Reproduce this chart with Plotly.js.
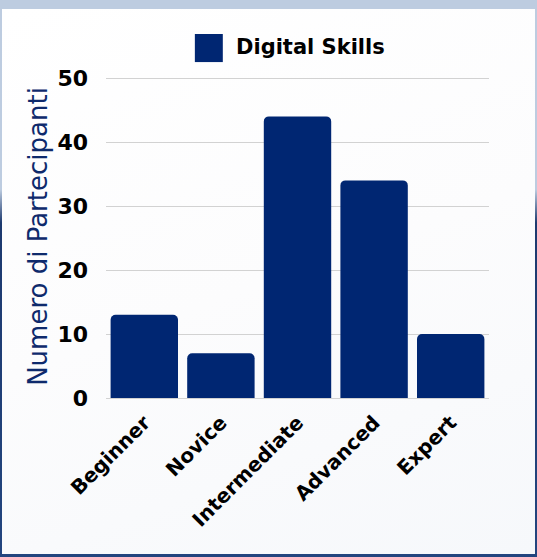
<!DOCTYPE html>
<html>
<head>
<meta charset="utf-8">
<script src="https://cdn.plot.ly/plotly-3.0.1.min.js"></script>
<style>
  html, body { margin:0; padding:0; width:537px; height:557px; overflow:hidden; }
  body { background: linear-gradient(to bottom, #bdcce0 0%, #bdcce0 34%, #1d3a6f 40%, #23457f 100%); position:relative; }
  #frame { position:absolute; left:2px; top:9px; width:533px; height:545px; background: linear-gradient(160deg, #ffffff 0%, #fcfcfd 50%, #f6f8fb 100%); }
  #chart { width:533px; height:545px; }
</style>
</head>
<body>
<div id="frame"><div id="chart"></div></div>
<script>
const categories = ["Beginner", "Novice", "Intermediate", "Advanced", "Expert"];
const participants = [13, 7, 44, 34, 10];
const seriesName = "Digital Skills";
const yTitle = "Numero di Partecipanti";
const yTicks = [0, 10, 20, 30, 40, 50];

const barColor = "#002672";
const boldFont = "DejaVu Sans, sans-serif";

const trace = {
  type: "bar",
  x: categories,
  y: participants,
  name: seriesName,
  marker: { color: barColor, cornerradius: 5 },
  showlegend: false,
  hoverinfo: "x+y"
};

const layout = {
  width: 533, height: 545,
  margin: { l: 104, r: 46, t: 66, b: 156 },
  paper_bgcolor: "rgba(0,0,0,0)",
  plot_bgcolor: "rgba(0,0,0,0)",
  bargap: 0.12,
  xaxis: {
    type: "category",
    tickangle: -45,
    tickfont: { family: boldFont, size: 20, color: "#000000", weight: "bold" },
    showgrid: false, zeroline: false, showline: false, ticks: "",
    ticklabelstandoff: 8,
    automargin: false
  },
  yaxis: {
    range: [0, 50.47],
    tickvals: yTicks,
    tickfont: { family: boldFont, size: 22, color: "#000000", weight: "bold" },
    showgrid: true, gridcolor: "#d2d2d2", gridwidth: 1,
    zeroline: true, zerolinecolor: "#d2d2d2", zerolinewidth: 1,
    ticks: "", ticklabelstandoff: 17,
    automargin: false,
    title: { text: yTitle, font: { family: "DejaVu Sans, sans-serif", size: 26, color: "#0e2a6c" }, standoff: 2 }
  },
  shapes: [{
    type: "rect", xref: "paper", yref: "paper",
    x0: 0.232, x1: 0.305, y0: 1.040, y1: 1.127,
    fillcolor: barColor, line: { width: 0 }
  }],
  annotations: [{
    xref: "paper", yref: "paper",
    x: 0.335, y: 1.087, xanchor: "left", yanchor: "middle",
    text: "<b>" + seriesName + "</b>", showarrow: false,
    font: { family: boldFont, size: 21, color: "#000000" }
  }]
};

Plotly.newPlot("chart", [trace], layout, { displayModeBar: false });
</script>
</body>
</html>
